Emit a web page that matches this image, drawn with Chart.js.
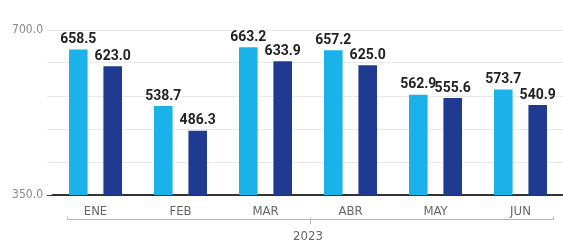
<!DOCTYPE html>
<html>
<head>
<meta charset="utf-8">
<script src="https://cdn.jsdelivr.net/npm/chart.js@4.4.0/dist/chart.umd.min.js"></script>
<style>
  html, body { margin: 0; padding: 0; background: #fff; }
  #wrap { width: 563px; height: 244px; position: relative; }
</style>
</head>
<body>
<div id="wrap"><canvas id="grafico"></canvas></div>
<script>
// Datos
const meses = ['ENE', 'FEB', 'MAR', 'ABR', 'MAY', 'JUN']
const serieA = [658.5, 538.7, 663.2, 657.2, 562.9, 573.7]
const serieB = [623.0, 486.3, 633.9, 625.0, 555.6, 540.9]
const ticksY = [350, 700]
const anio = '2023'

const narrow = '"Liberation Sans Narrow", "DejaVu Sans Condensed", Roboto, sans-serif'

// etiquetas encima de las barras
const etiquetas = {
    id: 'etiquetas',
    afterDatasetsDraw(chart) {
        const ctx = chart.ctx
        ctx.save()
        ctx.font = 'bold 14px Roboto, sans-serif'
        ctx.fillStyle = '#222'
        ctx.textAlign = 'center'
        ctx.textBaseline = 'bottom'
        chart.data.datasets.forEach((ds, i) => {
            chart.getDatasetMeta(i).data.forEach((bar, j) => {
                ctx.fillText(ds.data[j].toFixed(1), bar.x, bar.y - 3)
            })
        })
        ctx.restore()
    }
}

// corchete del año bajo los meses
const corchete = {
    id: 'corchete',
    afterDraw(chart) {
        const ctx = chart.ctx
        const x = chart.scales.x
        const cw = x.width / meses.length
        const first = Math.round(x.getPixelForValue(0) - cw * 0.33)
        const last = Math.round(x.getPixelForValue(meses.length - 1) + cw * 0.38)
        const y = chart.chartArea.bottom + 24.5
        ctx.save()
        ctx.strokeStyle = '#b5b5b5'
        ctx.lineWidth = 1
        ctx.beginPath()
        ctx.moveTo(first + 0.5, y - 3)
        ctx.lineTo(first + 0.5, y)
        ctx.lineTo(last + 0.5, y)
        ctx.lineTo(last + 0.5, y - 3)
        const mid = Math.round((first + last) / 2) + 0.5
        ctx.moveTo(mid, y - 2)
        ctx.lineTo(mid, y + 5)
        ctx.stroke()
        ctx.restore()
    }
}

new Chart(document.getElementById('grafico'), {
    type: 'bar',
    data: {
        labels: meses,
        datasets: [
            { data: serieA, backgroundColor: '#1ab2e8' },
            { data: serieB, backgroundColor: '#1f3b91' }
        ]
    },
    options: {
        responsive: true,
        maintainAspectRatio: false,
        animation: false,
        categoryPercentage: 0.81,
        barPercentage: 0.54,
        layout: { padding: { top: 30, right: 0, left: 0, bottom: 0 } },
        plugins: {
            legend: { display: false },
            tooltip: { enabled: false }
        },
        scales: {
            y: {
                min: 350,
                max: 700,
                ticks: {
                    stepSize: 70,
                    padding: 4,
                    color: '#888',
                    font: { family: narrow, size: 12 },
                    callback: v => ticksY.includes(v) ? v.toFixed(1) : ''
                },
                grid: { color: '#e8e8e8', tickLength: 6, tickColor: ctx => ctx.tick && ctx.tick.value === 350 ? '#333' : '#e8e8e8' },
                border: { display: false },
                afterFit: s => { s.width = 53 }
            },
            x: {
                grid: { display: false },
                border: { display: true, color: '#333', width: 2 },
                ticks: {
                    color: '#666',
                    padding: 1,
                    font: { family: narrow, size: 13 }
                },
                title: {
                    display: true,
                    text: anio,
                    color: '#666',
                    padding: { top: 4, bottom: 0 },
                    font: { family: narrow, size: 13 }
                },
                afterFit: s => { s.height = 49 }
            }
        }
    },
    plugins: [etiquetas, corchete]
})
</script>
</body>
</html>
